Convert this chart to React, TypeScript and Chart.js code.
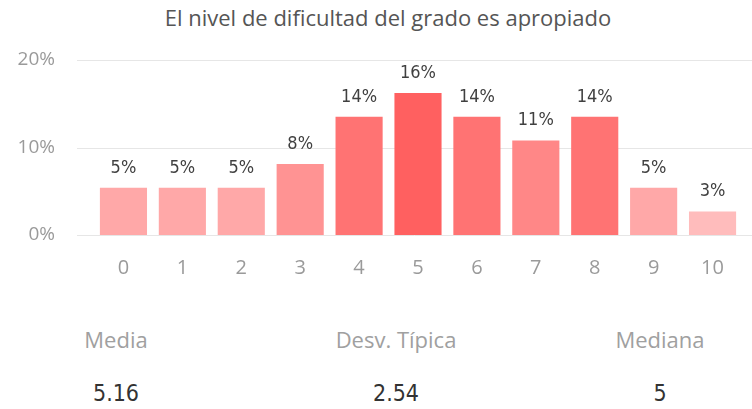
import React, { useEffect, useRef } from "react";
import { Chart, registerables } from "chart.js";

Chart.register(...registerables);

const categories = ["0", "1", "2", "3", "4", "5", "6", "7", "8", "9", "10"];
const percentValues = [5.41, 5.41, 5.41, 8.11, 13.51, 16.22, 13.51, 10.81, 13.51, 5.41, 2.7];
const barColors = [
  "#FFA8A8", "#FFA8A8", "#FFA8A8", "#FF9393", "#FF7373", "#FF6060",
  "#FF7373", "#FF8787", "#FF7373", "#FFA8A8", "#FFBCBC",
];
const yTicks = [0, 10, 20];
const statLabels = ["Media", "Desv. Típica", "Mediana"];
const statValues = ["5.16", "2.54", "5"];
const statCenters = [116, 396, 660];

const TITLE = "El nivel de dificultad del grado es apropiado";
const SEGOE = "'Segoe UI', 'Open Sans', sans-serif";
const DIN = "'DejaVu Sans Condensed', 'DejaVu Sans', sans-serif";

export default function App() {
  const canvasRef = useRef<HTMLCanvasElement | null>(null);

  useEffect(() => {
    const canvas = canvasRef.current;
    if (!canvas) return;

    const gridPlugin = {
      id: "extGrid",
      beforeDatasetsDraw(chart: any) {
        const { ctx } = chart;
        const y = chart.scales.y;
        ctx.save();
        ctx.strokeStyle = "#e6e6e6";
        ctx.lineWidth = 1;
        yTicks.forEach((t) => {
          const py = Math.round(y.getPixelForValue(t)) + 0.5;
          ctx.beginPath();
          ctx.moveTo(77, py);
          ctx.lineTo(752, py);
          ctx.stroke();
        });
        ctx.restore();
      },
    };

    const labelPlugin = {
      id: "barLabels",
      afterDatasetsDraw(chart: any) {
        const { ctx } = chart;
        const meta = chart.getDatasetMeta(0);
        ctx.save();
        ctx.font = `18px ${DIN}`;
        ctx.fillStyle = "#404040";
        ctx.textAlign = "center";
        ctx.textBaseline = "alphabetic";
        meta.data.forEach((bar: any, i: number) => {
          ctx.fillText(Math.round(percentValues[i]) + "%", bar.x, bar.y - 15);
        });
        ctx.restore();
      },
    };

    const chart = new Chart(canvas, {
      type: "bar",
      data: {
        labels: categories,
        datasets: [
          {
            data: percentValues,
            backgroundColor: barColors,
            borderWidth: 0,
            barPercentage: 0.8,
            categoryPercentage: 1,
          },
        ],
      },
      options: {
        animation: false,
        responsive: false,
        maintainAspectRatio: false,
        layout: { padding: { top: 60, right: 10, bottom: 0, left: 0 } },
        plugins: {
          legend: { display: false },
          tooltip: { enabled: false },
          title: { display: false },
        },
        scales: {
          x: {
            type: "category",
            offset: true,
            grid: { display: false, drawTicks: false },
            border: { display: false },
            ticks: {
              color: "#9a9a9a",
              font: { family: SEGOE, size: 20 },
              padding: 21,
              maxRotation: 0,
              autoSkip: false,
            },
            afterFit(scale: any) {
              scale.height = 65;
            },
          },
          y: {
            min: 0,
            max: 20,
            grid: { display: false, drawTicks: false },
            border: { display: false },
            ticks: {
              stepSize: 10,
              color: "#9a9a9a",
              font: { family: SEGOE, size: 19 },
              padding: 39,
              callback: (v: any) => v + "%",
            },
            afterFit(scale: any) {
              scale.width = 94;
            },
          },
        },
      },
      plugins: [gridPlugin, labelPlugin],
    });

    return () => chart.destroy();
  }, []);

  return (
    <div
      style={{
        position: "fixed",
        left: 0,
        top: 0,
        width: 752,
        height: 409,
        background: "#fff",
        overflow: "hidden",
      }}
    >
      <div
        style={{
          position: "absolute",
          left: 0,
          width: 776,
          top: 3,
          textAlign: "center",
          fontFamily: SEGOE,
          fontSize: 22,
          lineHeight: "28px",
          color: "#555",
          whiteSpace: "nowrap",
        }}
      >
        {TITLE}
      </div>
      <canvas
        ref={canvasRef}
        width={752}
        height={300}
        style={{ position: "absolute", left: 0, top: 0, width: 752, height: 300 }}
      />
      {statLabels.map((s, i) => (
        <div
          key={"l" + i}
          style={{
            position: "absolute",
            left: statCenters[i] - 100,
            width: 200,
            top: 327,
            textAlign: "center",
            fontFamily: SEGOE,
            fontSize: 22,
            lineHeight: "24px",
            color: "#a0a0a0",
            whiteSpace: "nowrap",
          }}
        >
          {s}
        </div>
      ))}
      {statValues.map((s, i) => (
        <div
          key={"v" + i}
          style={{
            position: "absolute",
            left: statCenters[i] - 100,
            width: 200,
            top: 379,
            textAlign: "center",
            fontFamily: DIN,
            fontSize: 23,
            lineHeight: "28px",
            color: "#333",
            whiteSpace: "nowrap",
          }}
        >
          {s}
        </div>
      ))}
    </div>
  );
}
